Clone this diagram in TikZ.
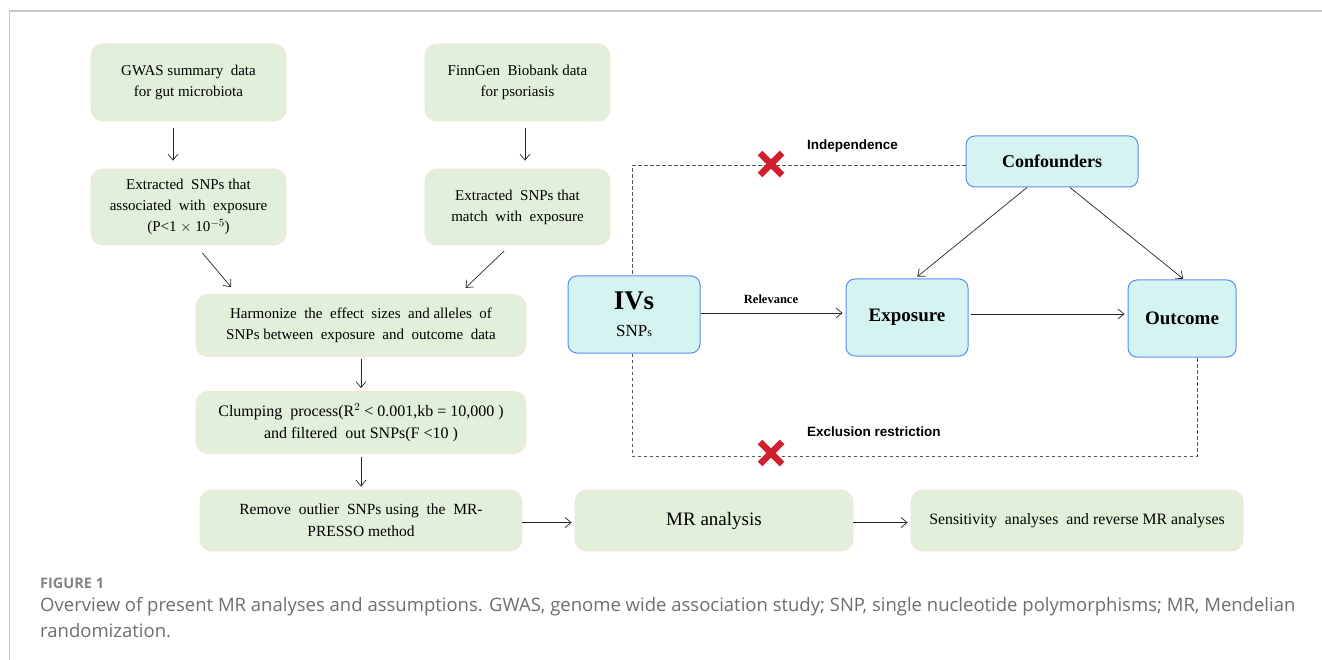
\documentclass[tikz,border=0pt]{standalone}
\usepackage{fontspec}
\setmainfont{Liberation Serif}
\newfontfamily\capfont{Open Sans}
\newfontfamily\arialfont{Liberation Sans}
\usetikzlibrary{arrows.meta}
\definecolor{gfill}{HTML}{E2EFDA}
\definecolor{gline}{HTML}{F6E3D2}
\definecolor{cfill}{HTML}{D5F3F1}
\definecolor{cline}{HTML}{5B8DEF}
\definecolor{xred}{HTML}{D0202F}
\definecolor{dashcol}{HTML}{555555}
\definecolor{capgray}{HTML}{6D6E70}
\definecolor{framegray}{HTML}{C8C8C8}
\tikzset{
  gbox/.style={draw=gline, fill=gfill, rounded corners=12pt, line width=0.8pt, inner sep=0pt, align=center, font=\fontsize{15}{21}\selectfont},
  cbox/.style={draw=cline, fill=cfill, rounded corners=9pt, line width=1pt, inner sep=0pt, align=center},
  arr/.style={-{Straight Barb[length=6pt,width=10pt]}, line width=0.7pt, black!85},
  dashline/.style={draw=dashcol, line width=1pt, dash pattern=on 3.5pt off 2.5pt},
  redx/.style={draw=xred, line width=6.5pt},
  lab/.style={inner sep=0pt}
}
\begin{document}
\begin{tikzpicture}[x=1pt,y=-1pt]
\useasboundingbox (0,0) rectangle (1322,660);
\fill[white] (0,0) rectangle (1322,660);
\draw[framegray, line width=1.3pt] (9.5,660) -- (9.5,11) -- (1322,11);

% left flow
\node[gbox, minimum width=195pt, minimum height=77pt] (gwas) at (188.5,82.5) {GWAS summary\ \ data\\for gut microbiota};
\node[gbox, minimum width=185pt, minimum height=77pt] (finn) at (517.5,82.5) {FinnGen\ \ Biobank data\\for psoriasis};
\node[gbox, minimum width=195pt, minimum height=76pt] (ext1) at (188.5,207) {Extracted\ \ SNPs that\\associated\ \ with\ \ exposure\\(P{<}1 $\times$ 10$^{-5}$)};
\node[gbox, minimum width=185pt, minimum height=76pt] (ext2) at (517.5,207) {Extracted\ \ SNPs that\\match\ \ with\ \ exposure};
\node[gbox, minimum width=330pt, minimum height=62pt] (harm) at (361,325.5) {Harmonize\ \ the\ \ effect\ \ sizes\ \ and alleles\ \ of\\SNPs between\ \ exposure\ \ and\ \ outcome\ \ data};
\node[gbox, minimum width=330pt, minimum height=62pt, font=\fontsize{16}{22}\selectfont] (clump) at (361,422.5) {Clumping\ \ process(R$^{2}$ {<} 0.001,kb = 10,000 )\\and filtered\ \ out SNPs(F {<}10 )};
\node[gbox, minimum width=322pt, minimum height=61pt, font=\fontsize{15.5}{22}\selectfont] (rem) at (361,520.5) {Remove\ \ outlier\ \ SNPs using\ \ the\ \ MR-\\PRESSO method};
\node[gbox, minimum width=278pt, minimum height=61pt, font=\fontsize{19}{22}\selectfont] (mr) at (714,520.5) {MR analysis};
\node[gbox, minimum width=332pt, minimum height=61pt, font=\fontsize{15.8}{21}\selectfont] (sens) at (1077,520.5) {Sensitivity\ \ analyses\ \ and reverse MR analyses};

\draw[arr, shorten <=7pt, shorten >=8pt] ([xshift=-15.5pt]gwas.south) -- ([xshift=-15.5pt]ext1.north);
\draw[arr, shorten <=7pt, shorten >=8pt] ([xshift=7.5pt]finn.south) -- ([xshift=7.5pt]ext2.north);
\draw[arr, shorten <=10pt, shorten >=9pt] ([xshift=7.5pt]ext1.south) -- ([xshift=-124pt]harm.north);
\draw[arr, shorten <=8pt, shorten >=9pt] ([xshift=-7.5pt]ext2.south) -- ([xshift=98pt]harm.north);
\draw[arr, shorten <=2pt, shorten >=3pt] (harm.south) -- (clump.north);
\draw[arr, shorten <=3pt, shorten >=3pt] (clump.south) -- (rem.north);
\draw[arr, shorten >=3pt] ([yshift=-2pt]rem.east) -- ([yshift=-2pt]mr.west);
\draw[arr, shorten >=3pt] ([yshift=-2pt]mr.east) -- ([yshift=-2pt]sens.west);

% right diagram
\node[cbox, minimum width=172pt, minimum height=51pt, font=\fontsize{18}{21}\selectfont\bfseries] (conf) at (1052,161.5) {Confounders};
\node[cbox, minimum width=132pt, minimum height=77pt, font=\fontsize{17}{27}\selectfont] (ivs) at (634,314.5) {{\fontsize{27}{30}\selectfont\bfseries IVs}\\SNP{\fontsize{12}{14}\selectfont s}};
\node[cbox, minimum width=122pt, minimum height=77pt, font=\fontsize{19}{22}\selectfont\bfseries] (expo) at (907,317.5) {Exposure};
\node[cbox, minimum width=108pt, minimum height=77pt, font=\fontsize{19}{22}\selectfont\bfseries] (outc) at (1182,318.5) {Outcome};

\draw[arr, shorten >=3pt] ([yshift=1.5pt]ivs.east) -- ([yshift=4.5pt]expo.west);
\draw[arr, shorten <=2pt, shorten >=3pt] ([yshift=3.5pt]expo.east) -- ([yshift=4.5pt]outc.west);
\draw[arr, shorten >=3pt] ([xshift=-25pt]conf.south) -- ([xshift=8pt]expo.north);
\draw[arr, shorten >=1pt] ([xshift=18pt]conf.south) -- ([xshift=2pt]outc.north);

\coordinate (c1) at (632,166);
\coordinate (c2) at (632,456);
\coordinate (c3) at (1197,456);
\draw[dashline] ([yshift=-4.5pt]conf.west) -- (c1) -- (c1 |- ivs.north);
\draw[dashline] (c2 |- ivs.south) -- (c2) -- (c3) -- (c3 |- outc.south);

\node[lab, font=\arialfont\fontsize{13.5}{15}\selectfont\bfseries, anchor=west] (indep) at (807,146) {Independence};
\node[lab, font=\arialfont\fontsize{13.5}{15}\selectfont\bfseries, anchor=west] (excl) at (807,432) {Exclusion restriction};
\node[lab, font=\fontsize{12.5}{14}\selectfont\bfseries] (relev) at (771,299) {Relevance};

\draw[redx] (760,153) -- (782,175) (782,153) -- (760,175);
\draw[redx] (760,442) -- (782,464) (782,442) -- (760,464);

% caption
\node[lab, anchor=west, text=capgray!85, font=\capfont\fontsize{14.5}{16}\selectfont\bfseries] (fig) at (40,583) {FIGURE 1};
\node[lab, anchor=west, text=capgray, font=\capfont\fontsize{18.5}{24}\selectfont] (cap1) at (40,607) {Overview of present MR analyses and assumptions. GWAS, genome wide association study; SNP, single nucleotide polymorphisms; MR, Mendelian};
\node[lab, anchor=west, text=capgray, font=\capfont\fontsize{18.5}{24}\selectfont] (cap2) at (40,631) {randomization.};
\end{tikzpicture}
\end{document}
